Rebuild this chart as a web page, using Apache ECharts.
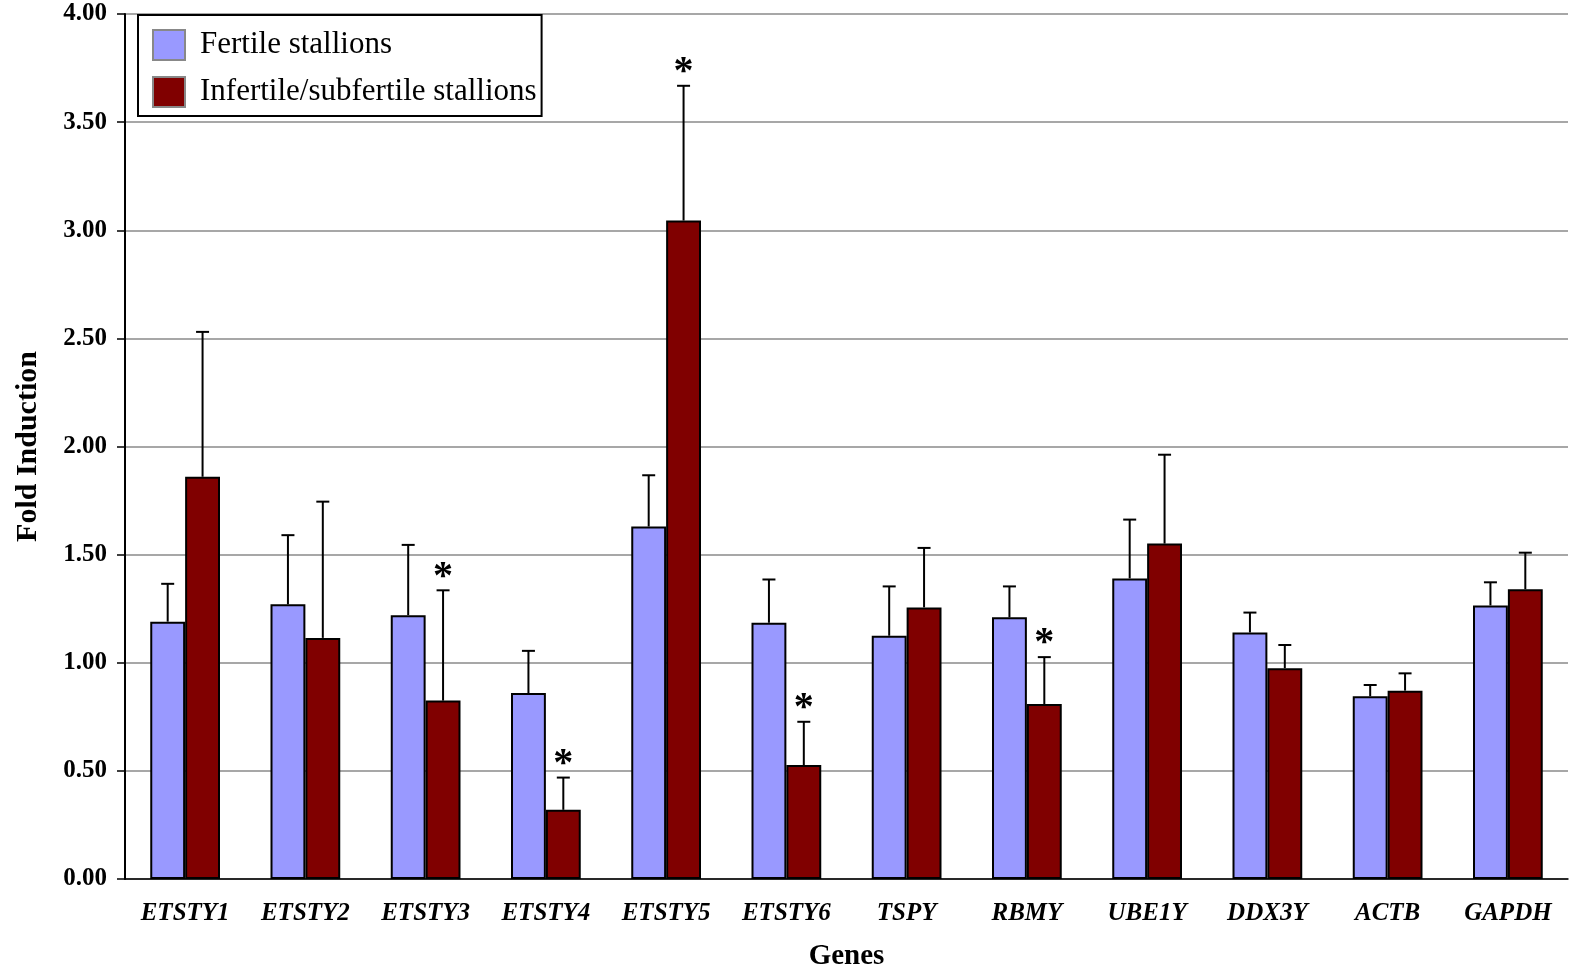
<!DOCTYPE html>
<html>
<head>
<meta charset="utf-8">
<script src="https://cdn.jsdelivr.net/npm/echarts@6/dist/echarts.min.js"></script>
<style>
html,body{margin:0;padding:0;background:#fff;overflow:hidden;}
#chart{width:1570px;height:974px;}
</style>
</head>
<body>
<div id="chart"></div>
<script>
var categories = ['ETSTY1','ETSTY2','ETSTY3','ETSTY4','ETSTY5','ETSTY6','TSPY','RBMY','UBE1Y','DDX3Y','ACTB','GAPDH'];
var fertile =        [1.19, 1.27, 1.22, 0.86, 1.63, 1.185, 1.125, 1.21, 1.39, 1.14, 0.845, 1.265];
var fertileErrTop =  [1.365,1.59, 1.545,1.055,1.867,1.385, 1.353, 1.353,1.662,1.232,0.897, 1.372];
var infertile =      [1.86, 1.115,0.825,0.32, 3.045,0.527, 1.256, 0.809,1.551,0.975,0.871, 1.34];
var infertileErrTop= [2.53, 1.745,1.335,0.469,3.668,0.727, 1.531, 1.026,1.962,1.082,0.951, 1.509];
var significant =    [false,false,true, true, true, true,  false, true, false,false,false, false];
var yTicks = [0,0.5,1,1.5,2,2.5,3,3.5,4];

var serif = '"Liberation Serif","DejaVu Serif",serif';
var catGap = 0.42;

function errRender(errArr, vals, side, flags) {
  return function (params, api) {
    var i = api.value(0);
    var bandW = api.size([1, 0])[0];
    var barW = bandW * (1 - catGap) / 2;
    var base = api.coord([i, vals[i]]);
    var top = api.coord([i, errArr[i]]);
    var x = base[0] + side * barW / 2;
    var cap = 6.5;
    var children = [
      {type:'line', shape:{x1:x, y1:base[1], x2:x, y2:top[1]}, style:{stroke:'#000', lineWidth:2}},
      {type:'line', shape:{x1:x-cap, y1:top[1], x2:x+cap, y2:top[1]}, style:{stroke:'#000', lineWidth:2}}
    ];
    if (flags && flags[i]) {
      children.push({type:'text', x:x, y:top[1]-13, style:{text:'*', fill:'#000', font:'bold 40px ' + serif, textAlign:'center', textVerticalAlign:'middle'}});
    }
    return {type:'group', children:children};
  };
}

var chart = echarts.init(document.getElementById('chart'), null, {renderer:'canvas'});
chart.setOption({
  animation:false,
  backgroundColor:'#fff',
  grid:{left:125, right:2, top:14, bottom:95, containLabel:false, outerBoundsMode:'none'},
  legend:{
    left:138, top:15, orient:'vertical',
    data:['Fertile stallions','Infertile/subfertile stallions'],
    itemWidth:32, itemHeight:30, itemGap:15,
    padding:[14,5,8,14],
    borderColor:'#000', borderWidth:2, backgroundColor:'#fff',
    icon:'rect',
    itemStyle:{borderColor:'#888', borderWidth:2},
    textStyle:{fontFamily:serif, fontSize:31, color:'#000', padding:[0,0,0,10]}
  },
  xAxis:{
    type:'category', data:categories,
    name:'Genes', nameLocation:'middle', nameGap:63,
    nameTextStyle:{fontFamily:serif, fontWeight:'bold', fontSize:29, color:'#000'},
    axisLine:{lineStyle:{color:'#000', width:1.5}},
    axisTick:{length:8, lineStyle:{color:'#000', width:1.5}},
    axisLabel:{fontFamily:serif, fontWeight:'bold', fontStyle:'italic', fontSize:25, color:'#000', margin:22, interval:0}
  },
  yAxis:{
    type:'value', min:0, max:4, interval:0.5,
    name:'Fold Induction', nameLocation:'middle', nameGap:82, nameRotate:90,
    nameTextStyle:{fontFamily:serif, fontWeight:'bold', fontSize:30, color:'#000'},
    axisLine:{show:true, lineStyle:{color:'#000', width:2}},
    axisTick:{show:true, length:8, lineStyle:{color:'#000', width:1.5}},
    axisLabel:{fontFamily:serif, fontWeight:'bold', fontSize:25, color:'#000', margin:18,
      formatter:function(v){return yTicks.indexOf(v) >= 0 ? v.toFixed(2) : '';}},
    splitLine:{show:true, lineStyle:{color:'#8a8a8a', width:1.5}}
  },
  series:[
    {name:'Fertile stallions', type:'bar', data:fertile, barGap:'0%', barCategoryGap:(catGap*100)+'%',
     itemStyle:{color:'#9999FF', borderColor:'#000', borderWidth:2}},
    {name:'Infertile/subfertile stallions', type:'bar', data:infertile, barGap:'0%', barCategoryGap:(catGap*100)+'%',
     itemStyle:{color:'#800000', borderColor:'#000', borderWidth:2}},
    {type:'custom', data:categories.map(function(c,i){return [i];}), renderItem:errRender(fertileErrTop, fertile, -1, null), z:5, silent:true},
    {type:'custom', data:categories.map(function(c,i){return [i];}), renderItem:errRender(infertileErrTop, infertile, 1, significant), z:5, silent:true}
  ]
});
</script>
</body>
</html>
